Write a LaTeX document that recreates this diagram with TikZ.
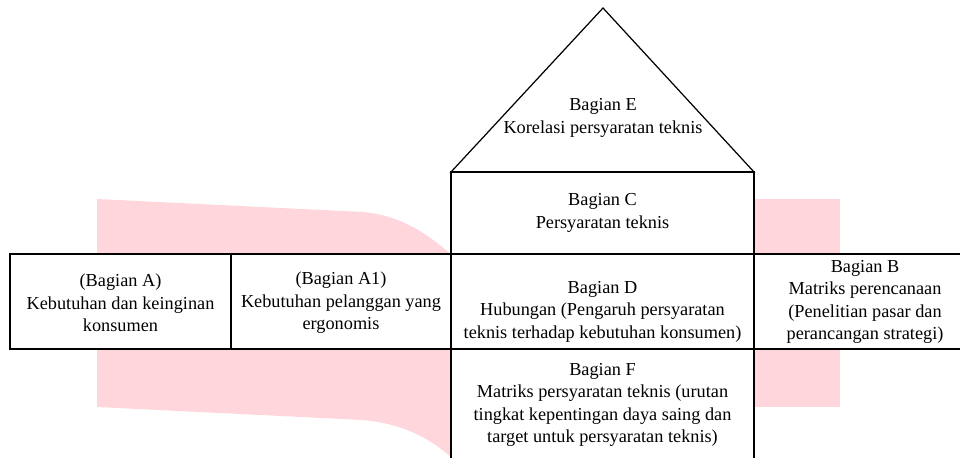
\documentclass[tikz,border=0pt]{standalone}
\usepackage{fontspec}
\setmainfont{Liberation Serif}
\usepackage{tikz}
\definecolor{wmpink}{RGB}{255,214,219}
\tikzset{
	parttext/.style={align=center, inner sep=1pt, font=\fontsize{10.4}{12.8}\selectfont},
	frame/.style={draw=black, line width=0.7pt, fill=white}
}

\begin{document}
\begin{tikzpicture}
			\useasboundingbox (0,0) rectangle (19.2,9.14);
			%\draw [help lines] (0,0) grid (19,9);
			% watermark behind the house
			\fill[wmpink] (1.94,5.16) -- (7.26,4.90) .. controls (8.1,4.82) and (8.6,4.4) .. (9.02,4.06) -- (9.02,0) .. controls (8.6,0.36) and (8.1,0.66) .. (7.26,0.74) -- (1.94,1.00) -- cycle;
			\fill[wmpink] (15.08,1.00) rectangle (16.80,5.16);
			% roof and columns
			\draw[frame] (9.02,5.70) -- (12.06,8.98) -- (15.08,5.70) -- cycle;
			\draw[frame] (9.02,4.06) rectangle (15.08,5.70);
			\draw[frame] (0.20,2.16) rectangle (19.40,4.06);
			\draw[line width=0.7pt] (4.62,2.16) -- (4.62,4.06);
			\draw[line width=0.7pt] (9.02,2.16) -- (9.02,4.06);
			\draw[line width=0.7pt] (15.08,2.16) -- (15.08,4.06);
			\draw[frame] (9.02,-0.30) rectangle (15.08,2.16);
			% texts
			\node[parttext] (bagE) at (12.06,6.78) {Bagian E\\Korelasi persyaratan teknis};
			\node[parttext] (bagC) at (12.05,4.88) {Bagian C\\Persyaratan teknis};
			\node[parttext] (bagA) at (2.41,3.08) {(Bagian A)\\Kebutuhan dan keinginan\\konsumen};
			\node[parttext] (bagAa) at (6.82,3.08) {(Bagian A1)\\Kebutuhan pelanggan yang\\ergonomis};
			\node[parttext] (bagD) at (12.05,2.91) {Bagian D\\Hubungan (Pengaruh persyaratan\\teknis terhadap kebutuhan konsumen)};
			\node[parttext] (bagB) at (17.30,3.10) {Bagian B\\Matriks perencanaan\\(Penelitian pasar dan\\perancangan strategi)};
			\node[parttext] (bagF) at (12.05,1.04) {Bagian F\\Matriks persyaratan teknis (urutan\\tingkat kepentingan daya saing dan\\target untuk persyaratan teknis)};
	\end{tikzpicture}
\end{document}
